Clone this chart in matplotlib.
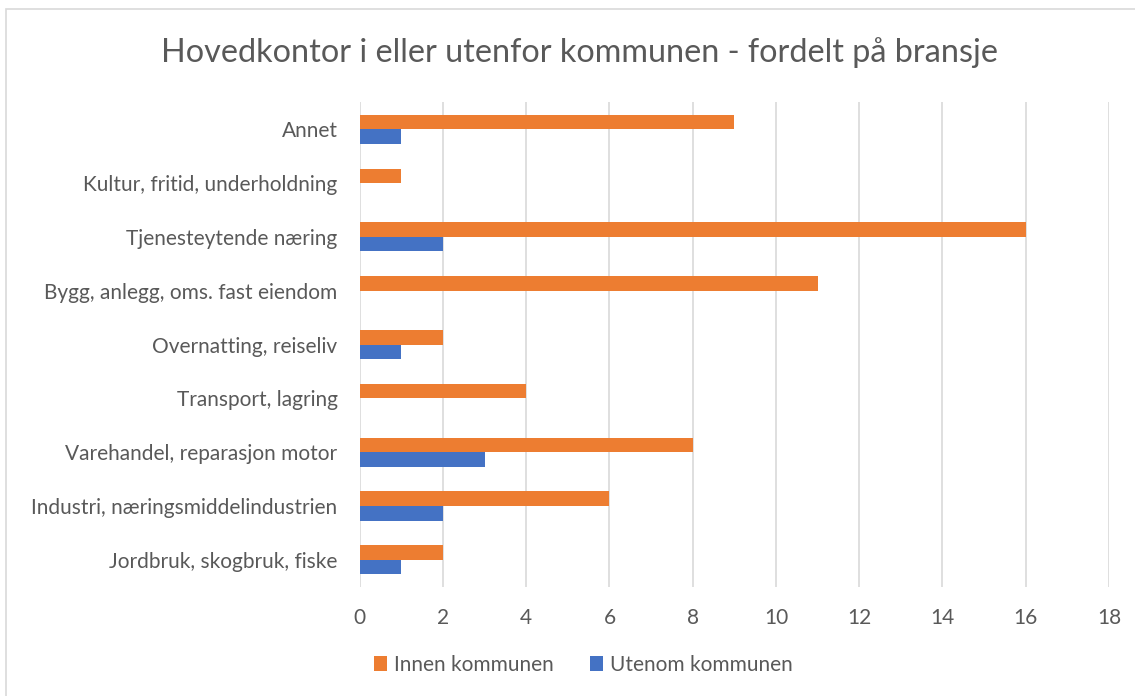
import numpy as np
import matplotlib.pyplot as plt
from matplotlib.patches import Rectangle

categories = [
    "Jordbruk, skogbruk, fiske",
    "Industri, næringsmiddelindustrien",
    "Varehandel, reparasjon motor",
    "Transport, lagring",
    "Overnatting, reiseliv",
    "Bygg, anlegg, oms. fast eiendom",
    "Tjenesteytende næring",
    "Kultur, fritid, underholdning",
    "Annet",
]
innen = [2, 6, 8, 4, 2, 11, 16, 1, 9]
utenom = [1, 2, 3, 0, 1, 0, 2, 0, 1]
xticks = [0, 2, 4, 6, 8, 10, 12, 14, 16, 18]

plt.rcParams['font.family'] = ['Lato', 'DejaVu Sans']
grey = "#595959"

fig = plt.figure(figsize=(11.35, 6.96), dpi=100)
ax = fig.add_axes([0.317, 0.157, 0.66, 0.696])

y = np.arange(len(categories))
h = 0.27
ax.barh(y + h / 2, innen, height=h, color="#ED7D31", label="Innen kommunen", zorder=3)
ax.barh(y - h / 2, utenom, height=h, color="#4472C4", label="Utenom kommunen", zorder=3)

ax.set_xlim(0, 18)
ax.set_ylim(-0.5, len(categories) - 0.5)
ax.set_xticks(xticks)
ax.set_yticks(y)
ax.set_yticklabels(categories)
ax.tick_params(axis='both', length=0, labelsize=15, colors=grey)
ax.tick_params(axis='y', pad=16)
ax.tick_params(axis='x', pad=15)
ax.grid(axis='x', color="#D9D9D9", linewidth=1.2, zorder=0)
for s in ax.spines.values():
    s.set_visible(False)

fig.suptitle("Hovedkontor i eller utenfor kommunen - fordelt på bransje",
             x=0.511, y=0.947, fontsize=23.3, color=grey)

fig.legend(loc='center', bbox_to_anchor=(0.514, 0.045), ncol=2, frameon=False,
           fontsize=15, labelcolor=grey, handlelength=0.65, handleheight=0.75,
           handletextpad=0.35, columnspacing=1.7)

fig.patches.append(Rectangle((0.005, -0.01), 1.0, 0.997, transform=fig.transFigure,
                             fill=False, edgecolor="#D9D9D9", linewidth=1.2))

fig.savefig("out.png", dpi=100)
